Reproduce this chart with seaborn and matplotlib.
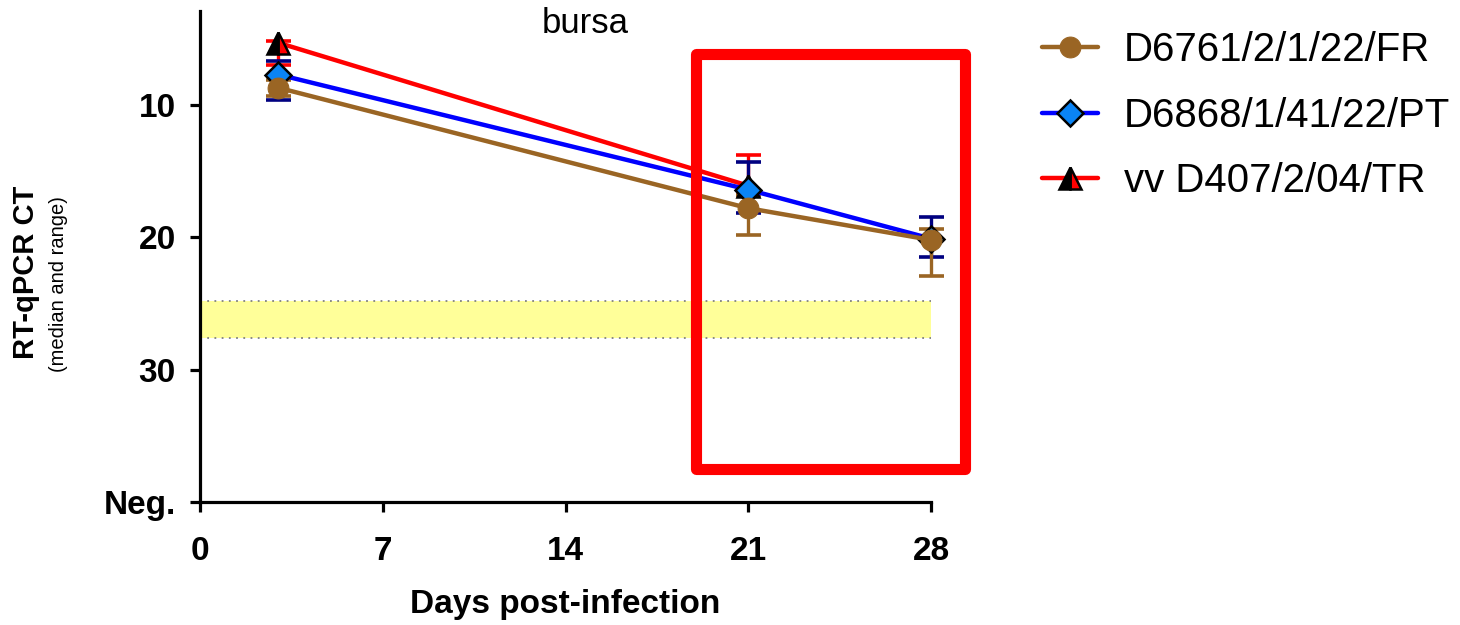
import numpy as np
import matplotlib.pyplot as plt
import matplotlib.patches as patches
import seaborn as sns

# RT-qPCR CT values (median and range) per strain
days = [3, 21, 28]
fr_median = [8.7, 17.8, 20.2]
fr_low = [8.1, 16.8, 19.4]
fr_high = [9.3, 19.8, 22.9]

pt_median = [7.7, 16.4, 20.1]
pt_low = [6.7, 14.3, 18.5]
pt_high = [9.6, 18.2, 21.5]

tr_days = [3, 21]
tr_median = [5.3, 16.1]
tr_low = [5.2, 13.8]
tr_high = [7.0, 16.8]

# shaded threshold band
band_x = [0, 28]
band_low = 24.8
band_high = 27.6

x_ticks = [0, 7, 14, 21, 28]
y_ticks = [10, 20, 30, 40]
y_tick_labels = ["10", "20", "30", "Neg."]

brown = "#9A6524"
navy = "#000080"

sns.set_style("ticks")
plt.rcParams["font.family"] = ["Liberation Sans", "DejaVu Sans"]
plt.rcParams.update({"text.color": "black", "axes.labelcolor": "black",
                     "xtick.color": "black", "ytick.color": "black",
                     "axes.edgecolor": "black"})

fig = plt.figure(figsize=(14.6, 6.25), dpi=100)
ax = fig.add_axes([0.13699, 0.1968, 0.50068, 0.7856])


def range_bars(x, med, lo, hi, color):
    med = np.array(med)
    err = [med - np.array(lo), np.array(hi) - med]
    eb = ax.errorbar(x, med, yerr=err, fmt="none", ecolor=color,
                     elinewidth=2.4, capsize=9, capthick=2.6, zorder=2)
    for part in eb.get_children():
        part.set_clip_on(False)


# band
ax.fill_between(band_x, band_low, band_high, color="#FFFF99", lw=0, zorder=1)
ax.plot(band_x, [band_low, band_low], ls=(0, (1, 3)), color="grey", lw=1.3, zorder=1)
ax.plot(band_x, [band_high, band_high], ls=(0, (1, 3)), color="grey", lw=1.3, zorder=1)

# red strain
range_bars(tr_days, tr_median, tr_low, tr_high, "red")
sns.lineplot(x=tr_days, y=tr_median, ax=ax, color="red", lw=3.2, errorbar=None,
             marker="^", markersize=16, fillstyle="right", markerfacecolor="red",
             markerfacecoloralt="black", markeredgecolor="black", markeredgewidth=1.8,
             label="vv D407/2/04/TR", clip_on=False, zorder=3)

# blue strain
range_bars(days, pt_median, pt_low, pt_high, navy)
sns.lineplot(x=days, y=pt_median, ax=ax, color="#0000FF", lw=3.2, errorbar=None,
             marker="D", markersize=13, markerfacecolor="#0A84F5",
             markeredgecolor="black", markeredgewidth=1.8,
             label="D6868/1/41/22/PT", clip_on=False, zorder=4)

# brown strain
range_bars(days, fr_median, fr_low, fr_high, brown)
sns.lineplot(x=days, y=fr_median, ax=ax, color=brown, lw=3.2, errorbar=None,
             marker="o", markersize=15, markerfacecolor=brown, markeredgecolor=brown,
             label="D6761/2/1/22/FR", clip_on=False, zorder=5)

# highlight box
box = patches.Rectangle((19.0, 6.17), 10.29, 31.37, fill=False, ec="red", lw=8,
                        joinstyle="round", clip_on=False, zorder=6)
ax.add_patch(box)

ax.set_xlim(0, 28)
ax.set_ylim(40, 2.9)
ax.set_xticks(x_ticks)
ax.set_yticks(y_ticks)
ax.set_yticklabels(y_tick_labels)
ax.set_xlabel("")
ax.set_ylabel("")
sns.despine(ax=ax)
for s in ["left", "bottom"]:
    ax.spines[s].set_linewidth(2.3)
ax.tick_params(axis="both", width=2.3, length=7.5, labelsize=24, color="black")
ax.tick_params(axis="x", pad=17)
ax.tick_params(axis="y", pad=10)
for lab in ax.get_xticklabels() + ax.get_yticklabels():
    lab.set_fontweight("bold")

fig.text(0.4007, 0.962, "bursa", ha="center", va="center", fontsize=25)
fig.text(0.0178, 0.5648, "RT-qPCR CT", rotation=90, ha="center", va="center",
         fontsize=21, fontweight="bold")
fig.text(0.0400, 0.5456, "(median and range)", rotation=90, ha="center", va="center",
         fontsize=14.5)
fig.text(0.387, 0.032, "Days post-infection", ha="center", va="center",
         fontsize=24, fontweight="bold")

handles, labels = ax.get_legend_handles_labels()
order = [labels.index(l) for l in ["D6761/2/1/22/FR", "D6868/1/41/22/PT", "vv D407/2/04/TR"]]
ax.legend([handles[i] for i in order], [labels[i] for i in order],
          loc="upper left", bbox_to_anchor=(0.714, 0.95), bbox_transform=fig.transFigure,
          frameon=False, fontsize=29, handlelength=1.37, handletextpad=0.66,
          labelspacing=0.68, borderpad=0, borderaxespad=0)

fig.savefig("out.png", dpi=100)
